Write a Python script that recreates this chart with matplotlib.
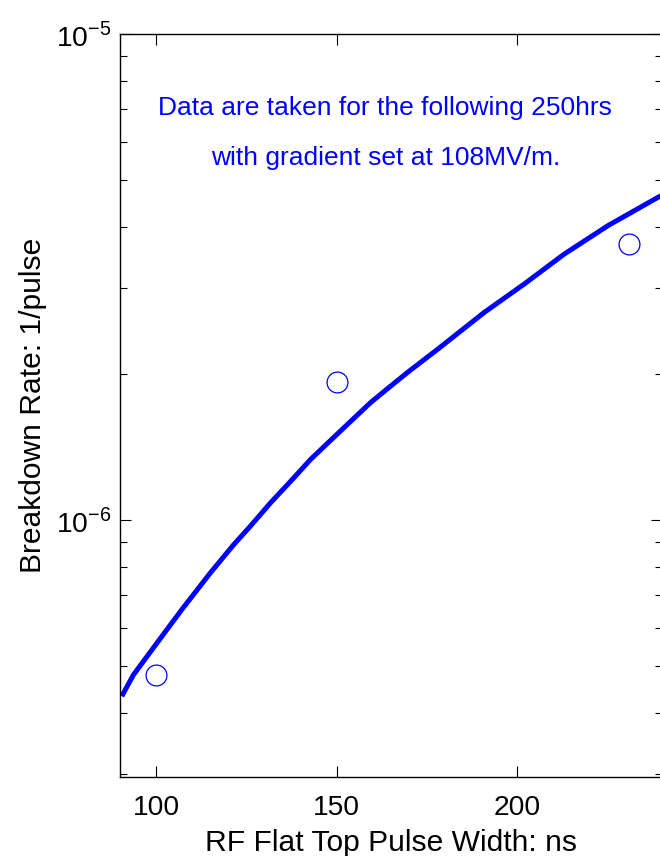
import math
import matplotlib
matplotlib.use("Agg")
import matplotlib.pyplot as plt
from matplotlib.ticker import FixedLocator, FuncFormatter, NullFormatter

plt.rcParams['font.family'] = ['Liberation Sans', 'DejaVu Sans']
plt.rcParams['mathtext.fontset'] = 'custom'
plt.rcParams['mathtext.rm'] = 'Liberation Sans'

# fitted curve
fit_width = [90.5, 93.7, 100.2, 107.1, 115.0, 121.5, 126.1, 131.7, 137.2, 142.8,
             153.0, 159.4, 165.0, 169.6, 178.0, 190.9, 202.0, 213.1, 225.2, 239.1, 240.0]
fit_rate = [4.34e-7, 4.80e-7, 5.58e-7, 6.54e-7, 7.78e-7, 8.90e-7, 9.71e-7, 1.085e-6, 1.20e-6, 1.333e-6,
            1.573e-6, 1.744e-6, 1.887e-6, 2.011e-6, 2.246e-6, 2.674e-6, 3.06e-6, 3.527e-6, 4.035e-6, 4.616e-6, 4.65e-6]

# measured points
meas_width = [100, 150, 231]
meas_rate = [4.80e-7, 1.927e-6, 3.70e-6]

x_ticks = [100, 150, 200]
note = ["Data are taken for the following 250hrs",
        "with gradient set at 108MV/m."]

fig = plt.figure(figsize=(6.6, 8.56), dpi=100)
ax = fig.add_axes([120 / 660, 79 / 856, 541.5 / 660, 743 / 856])

ax.plot(fit_width, fit_rate, color='#0000ff', lw=3.6, solid_capstyle='butt')
ax.plot(meas_width, meas_rate, 'o', mfc='none', mec='#0000ff', ms=15, mew=0.9)

ax.set_yscale('log')
ax.set_xlim(90, 240)
ax.set_ylim(2.96e-7, 1e-5)

ax.xaxis.set_major_locator(FixedLocator(x_ticks))
ax.yaxis.set_major_locator(FixedLocator([1e-6, 1e-5]))
minor = [m * 10.0 ** e for e in (-7, -6) for m in range(2, 10)]
ax.yaxis.set_minor_locator(FixedLocator(minor))
ax.yaxis.set_minor_formatter(NullFormatter())
ax.yaxis.set_major_formatter(FuncFormatter(lambda v, p: r'$10^{%d}$' % round(math.log10(v))))

ax.tick_params(which='both', direction='in', top=True, right=True, labelsize=20.3, width=0.8, colors='black')
ax.tick_params(which='major', length=8)
ax.tick_params(which='minor', length=5)
ax.tick_params(axis='x', which='major', pad=13)
ax.tick_params(axis='y', which='major', pad=6)
for s in ax.spines.values():
    s.set_linewidth(1.0)

ax.set_xlabel('RF Flat Top Pulse Width: ns', fontsize=21.6, labelpad=6)
ax.set_ylabel('Breakdown Rate: 1/pulse', fontsize=21.6, labelpad=7)

ax.text(0.49, 0.9, note[0], transform=ax.transAxes, ha='center', va='center', color='#0000ff', fontsize=19)
ax.text(0.49, 0.833, note[1], transform=ax.transAxes, ha='center', va='center', color='#0000ff', fontsize=19)

fig.savefig('out.png', dpi=100)
